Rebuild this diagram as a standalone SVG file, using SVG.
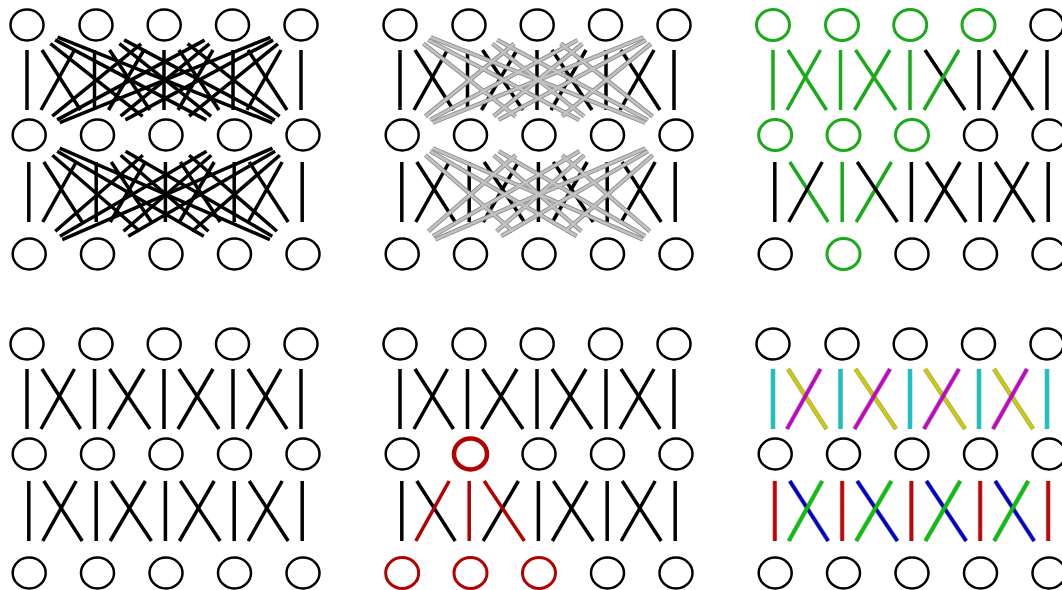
<svg xmlns="http://www.w3.org/2000/svg" xmlns:xlink="http://www.w3.org/1999/xlink" width="1062" height="590" viewBox="0 0 1062 590">
<style>
.n{fill:none;stroke:#000;stroke-width:2.5}
.ng{fill:none;stroke:#1aaa1a;stroke-width:3}
.nr{fill:none;stroke:#b30000;stroke-width:3}
.nr2{fill:none;stroke:#b30000;stroke-width:4.5}
line{stroke-linecap:butt;fill:none}
.k{stroke:#000;stroke-width:3.5}
.g{stroke:#1aaa1a;stroke-width:3.5}
.r{stroke:#b30000;stroke-width:3.5}
.o{stroke:#444;stroke-opacity:.55;stroke-width:4.6}
.cy{stroke:#00cccc;stroke-width:3.4}
.ye{stroke:#cccc00;stroke-width:3.4}
.ma{stroke:#cc00cc;stroke-width:3.4}
.rd{stroke:#cc0000;stroke-width:3.4}
.bl{stroke:#0000cc;stroke-width:3.4}
.gr{stroke:#00c800;stroke-width:3.4}
</style>
<defs>
<g id="longA">
<line x1="50.4" y1="43.6" x2="142.6" y2="116.4"/>
<line x1="55.1" y1="39.9" x2="206.4" y2="120.1"/>
<line x1="57.6" y1="37.2" x2="272.4" y2="122.8"/>
<line x1="119.4" y1="43.6" x2="211.1" y2="116.4"/>
<line x1="124.1" y1="39.9" x2="274.9" y2="120.1"/>
<line x1="187.6" y1="43.6" x2="279.6" y2="116.4"/>
<line x1="141.1" y1="43.8" x2="52.3" y2="116.2"/>
<line x1="204.6" y1="40.1" x2="57.1" y2="119.9"/>
<line x1="270.5" y1="37.3" x2="59.7" y2="122.7"/>
<line x1="209.4" y1="43.8" x2="120.6" y2="116.2"/>
<line x1="273.1" y1="40.1" x2="125.4" y2="119.9"/>
<line x1="277.9" y1="43.8" x2="189.1" y2="116.2"/>
</g>
<g id="longB">
<line x1="52.4" y1="155.2" x2="139.9" y2="231.3"/>
<line x1="57.2" y1="151.2" x2="203.8" y2="236.2"/>
<line x1="59.7" y1="148.2" x2="269.9" y2="239.6"/>
<line x1="120.7" y1="155.2" x2="208.4" y2="231.3"/>
<line x1="125.5" y1="151.2" x2="272.3" y2="236.2"/>
<line x1="189.2" y1="155.2" x2="276.9" y2="231.3"/>
<line x1="142.8" y1="155.2" x2="55.3" y2="231.3"/>
<line x1="206.6" y1="151.2" x2="59.9" y2="236.2"/>
<line x1="272.5" y1="148.2" x2="62.3" y2="239.6"/>
<line x1="211.3" y1="155.2" x2="123.6" y2="231.3"/>
<line x1="275.1" y1="151.2" x2="128.2" y2="236.2"/>
<line x1="279.8" y1="155.2" x2="192.1" y2="231.3"/>
</g>
</defs>
<rect width="1062" height="590" fill="#fff"/>

<!-- Panel 1 -->
<g id="panel1">
<g id="p1-connectors">
<line class="k" x1="27" y1="50" x2="27" y2="110"/><line class="k" x1="94.5" y1="50" x2="94.5" y2="110"/><line class="k" x1="164" y1="50" x2="164" y2="110"/><line class="k" x1="233" y1="50" x2="233" y2="110"/><line class="k" x1="301" y1="50" x2="301" y2="110"/>
<line class="k" x1="42" y1="50" x2="80.5" y2="110"/><line class="k" x1="109.5" y1="50" x2="150" y2="110"/><line class="k" x1="179" y1="50" x2="219" y2="110"/><line class="k" x1="248" y1="50" x2="287" y2="110"/>
<line class="k" x1="74.5" y1="50" x2="41" y2="110"/><line class="k" x1="144" y1="50" x2="108.5" y2="110"/><line class="k" x1="213" y1="50" x2="178" y2="110"/><line class="k" x1="281" y1="50" x2="247" y2="110"/>
<line class="k" x1="28.8" y1="162" x2="28.8" y2="222"/><line class="k" x1="96.2" y1="162" x2="96.2" y2="222"/><line class="k" x1="165.4" y1="162" x2="165.4" y2="222"/><line class="k" x1="234.2" y1="162" x2="234.2" y2="222"/><line class="k" x1="302.2" y1="162" x2="302.2" y2="222"/>
<line class="k" x1="43.8" y1="162" x2="82.2" y2="222"/><line class="k" x1="111.2" y1="162" x2="151.4" y2="222"/><line class="k" x1="180.4" y1="162" x2="220.2" y2="222"/><line class="k" x1="249.2" y1="162" x2="288.2" y2="222"/>
<line class="k" x1="76.2" y1="162" x2="42.8" y2="222"/><line class="k" x1="145.4" y1="162" x2="110.2" y2="222"/><line class="k" x1="214.2" y1="162" x2="179.4" y2="222"/><line class="k" x1="282.2" y1="162" x2="248.2" y2="222"/>
<use href="#longA" stroke="#000" stroke-width="3.5"/>
<use href="#longB" stroke="#000" stroke-width="3.5"/>
</g>
<g id="p1-n00"><ellipse class="n" cx="27" cy="25" rx="16.5" ry="15.5"/></g>
<g id="p1-n01"><ellipse class="n" cx="96" cy="25" rx="16.5" ry="15.5"/></g>
<g id="p1-n02"><ellipse class="n" cx="164.2" cy="25" rx="16.5" ry="15.5"/></g>
<g id="p1-n03"><ellipse class="n" cx="232.5" cy="25" rx="16.5" ry="15.5"/></g>
<g id="p1-n04"><ellipse class="n" cx="301" cy="25" rx="16.5" ry="15.5"/></g>
<g id="p1-n10"><ellipse class="n" cx="29.2" cy="135" rx="16.5" ry="15.5"/></g>
<g id="p1-n11"><ellipse class="n" cx="97.5" cy="135" rx="16.5" ry="15.5"/></g>
<g id="p1-n12"><ellipse class="n" cx="166" cy="135" rx="16.5" ry="15.5"/></g>
<g id="p1-n13"><ellipse class="n" cx="234.5" cy="135" rx="16.5" ry="15.5"/></g>
<g id="p1-n14"><ellipse class="n" cx="303" cy="135" rx="16.5" ry="15.5"/></g>
<g id="p1-n20"><ellipse class="n" cx="29.2" cy="254" rx="16.5" ry="15.5"/></g>
<g id="p1-n21"><ellipse class="n" cx="97.5" cy="254" rx="16.5" ry="15.5"/></g>
<g id="p1-n22"><ellipse class="n" cx="166" cy="254" rx="16.5" ry="15.5"/></g>
<g id="p1-n23"><ellipse class="n" cx="234.5" cy="254" rx="16.5" ry="15.5"/></g>
<g id="p1-n24"><ellipse class="n" cx="303" cy="254" rx="16.5" ry="15.5"/></g>
</g>

<!-- Panel 2 -->
<g id="panel2" transform="translate(373,0)">
<g id="p2-connectors">
<line class="k" x1="27" y1="50" x2="27" y2="110"/><line class="k" x1="94.5" y1="50" x2="94.5" y2="110"/><line class="k" x1="164" y1="50" x2="164" y2="110"/><line class="k" x1="233" y1="50" x2="233" y2="110"/><line class="k" x1="301" y1="50" x2="301" y2="110"/>
<line class="k" x1="42" y1="50" x2="80.5" y2="110"/><line class="k" x1="109.5" y1="50" x2="150" y2="110"/><line class="k" x1="179" y1="50" x2="219" y2="110"/><line class="k" x1="248" y1="50" x2="287" y2="110"/>
<line class="k" x1="74.5" y1="50" x2="41" y2="110"/><line class="k" x1="144" y1="50" x2="108.5" y2="110"/><line class="k" x1="213" y1="50" x2="178" y2="110"/><line class="k" x1="281" y1="50" x2="247" y2="110"/>
<line class="k" x1="28.8" y1="162" x2="28.8" y2="222"/><line class="k" x1="96.2" y1="162" x2="96.2" y2="222"/><line class="k" x1="165.4" y1="162" x2="165.4" y2="222"/><line class="k" x1="234.2" y1="162" x2="234.2" y2="222"/><line class="k" x1="302.2" y1="162" x2="302.2" y2="222"/>
<line class="k" x1="43.8" y1="162" x2="82.2" y2="222"/><line class="k" x1="111.2" y1="162" x2="151.4" y2="222"/><line class="k" x1="180.4" y1="162" x2="220.2" y2="222"/><line class="k" x1="249.2" y1="162" x2="288.2" y2="222"/>
<line class="k" x1="76.2" y1="162" x2="42.8" y2="222"/><line class="k" x1="145.4" y1="162" x2="110.2" y2="222"/><line class="k" x1="214.2" y1="162" x2="179.4" y2="222"/><line class="k" x1="282.2" y1="162" x2="248.2" y2="222"/>
<use href="#longA" stroke="#8c8c8c" stroke-width="4.4"/>
<use href="#longA" stroke="#c2c2c2" stroke-width="2.6"/>
<use href="#longB" stroke="#8c8c8c" stroke-width="4.4"/>
<use href="#longB" stroke="#c2c2c2" stroke-width="2.6"/>
</g>
<g id="p2-n00"><ellipse class="n" cx="27" cy="25" rx="16.5" ry="15.5"/></g>
<g id="p2-n01"><ellipse class="n" cx="96" cy="25" rx="16.5" ry="15.5"/></g>
<g id="p2-n02"><ellipse class="n" cx="164.2" cy="25" rx="16.5" ry="15.5"/></g>
<g id="p2-n03"><ellipse class="n" cx="232.5" cy="25" rx="16.5" ry="15.5"/></g>
<g id="p2-n04"><ellipse class="n" cx="301" cy="25" rx="16.5" ry="15.5"/></g>
<g id="p2-n10"><ellipse class="n" cx="29.2" cy="135" rx="16.5" ry="15.5"/></g>
<g id="p2-n11"><ellipse class="n" cx="97.5" cy="135" rx="16.5" ry="15.5"/></g>
<g id="p2-n12"><ellipse class="n" cx="166" cy="135" rx="16.5" ry="15.5"/></g>
<g id="p2-n13"><ellipse class="n" cx="234.5" cy="135" rx="16.5" ry="15.5"/></g>
<g id="p2-n14"><ellipse class="n" cx="303" cy="135" rx="16.5" ry="15.5"/></g>
<g id="p2-n20"><ellipse class="n" cx="29.2" cy="254" rx="16.5" ry="15.5"/></g>
<g id="p2-n21"><ellipse class="n" cx="97.5" cy="254" rx="16.5" ry="15.5"/></g>
<g id="p2-n22"><ellipse class="n" cx="166" cy="254" rx="16.5" ry="15.5"/></g>
<g id="p2-n23"><ellipse class="n" cx="234.5" cy="254" rx="16.5" ry="15.5"/></g>
<g id="p2-n24"><ellipse class="n" cx="303" cy="254" rx="16.5" ry="15.5"/></g>
</g>

<!-- Panel 3 -->
<g id="panel3" transform="translate(746,0)">
<g id="p3-connectors">
<line class="k" x1="233" y1="50" x2="233" y2="110"/><line class="k" x1="301" y1="50" x2="301" y2="110"/>
<line class="k" x1="179" y1="50" x2="219" y2="110"/><line class="k" x1="248" y1="50" x2="287" y2="110"/><line class="k" x1="281" y1="50" x2="247" y2="110"/>
<line class="g" x1="27" y1="50" x2="27" y2="110"/><line class="g" x1="94.5" y1="50" x2="94.5" y2="110"/><line class="g" x1="164" y1="50" x2="164" y2="110"/>
<line class="g" x1="42" y1="50" x2="80.5" y2="110"/><line class="g" x1="109.5" y1="50" x2="150" y2="110"/>
<line class="g" x1="74.5" y1="50" x2="41" y2="110"/><line class="g" x1="144" y1="50" x2="108.5" y2="110"/><line class="g" x1="213" y1="50" x2="178" y2="110"/>
<line class="g" x1="43.8" y1="162" x2="82.2" y2="222"/><line class="g" x1="96.2" y1="162" x2="96.2" y2="222"/><line class="g" x1="145.4" y1="162" x2="110.2" y2="222"/>
<line class="k" x1="28.8" y1="162" x2="28.8" y2="222"/><line class="k" x1="165.4" y1="162" x2="165.4" y2="222"/><line class="k" x1="234.2" y1="162" x2="234.2" y2="222"/><line class="k" x1="302.2" y1="162" x2="302.2" y2="222"/>
<line class="k" x1="111.2" y1="162" x2="151.4" y2="222"/><line class="k" x1="180.4" y1="162" x2="220.2" y2="222"/><line class="k" x1="249.2" y1="162" x2="288.2" y2="222"/>
<line class="k" x1="76.2" y1="162" x2="42.8" y2="222"/><line class="k" x1="214.2" y1="162" x2="179.4" y2="222"/><line class="k" x1="282.2" y1="162" x2="248.2" y2="222"/>
</g>
<g id="p3-n00"><ellipse class="ng" cx="27" cy="25" rx="16.5" ry="15.5"/></g>
<g id="p3-n01"><ellipse class="ng" cx="96" cy="25" rx="16.5" ry="15.5"/></g>
<g id="p3-n02"><ellipse class="ng" cx="164.2" cy="25" rx="16.5" ry="15.5"/></g>
<g id="p3-n03"><ellipse class="ng" cx="232.5" cy="25" rx="16.5" ry="15.5"/></g>
<g id="p3-n04"><ellipse class="n" cx="301" cy="25" rx="16.5" ry="15.5"/></g>
<g id="p3-n10"><ellipse class="ng" cx="29.2" cy="135" rx="16.5" ry="15.5"/></g>
<g id="p3-n11"><ellipse class="ng" cx="97.5" cy="135" rx="16.5" ry="15.5"/></g>
<g id="p3-n12"><ellipse class="ng" cx="166" cy="135" rx="16.5" ry="15.5"/></g>
<g id="p3-n13"><ellipse class="n" cx="234.5" cy="135" rx="16.5" ry="15.5"/></g>
<g id="p3-n14"><ellipse class="n" cx="303" cy="135" rx="16.5" ry="15.5"/></g>
<g id="p3-n20"><ellipse class="n" cx="29.2" cy="254" rx="16.5" ry="15.5"/></g>
<g id="p3-n21"><ellipse class="ng" cx="97.5" cy="254" rx="16.5" ry="15.5"/></g>
<g id="p3-n22"><ellipse class="n" cx="166" cy="254" rx="16.5" ry="15.5"/></g>
<g id="p3-n23"><ellipse class="n" cx="234.5" cy="254" rx="16.5" ry="15.5"/></g>
<g id="p3-n24"><ellipse class="n" cx="303" cy="254" rx="16.5" ry="15.5"/></g>
</g>

<!-- Panel 4 -->
<g id="panel4" transform="translate(0,319)">
<g id="p4-connectors">
<line class="k" x1="27" y1="50" x2="27" y2="110"/><line class="k" x1="94.5" y1="50" x2="94.5" y2="110"/><line class="k" x1="164" y1="50" x2="164" y2="110"/><line class="k" x1="233" y1="50" x2="233" y2="110"/><line class="k" x1="301" y1="50" x2="301" y2="110"/>
<line class="k" x1="42" y1="50" x2="80.5" y2="110"/><line class="k" x1="109.5" y1="50" x2="150" y2="110"/><line class="k" x1="179" y1="50" x2="219" y2="110"/><line class="k" x1="248" y1="50" x2="287" y2="110"/>
<line class="k" x1="74.5" y1="50" x2="41" y2="110"/><line class="k" x1="144" y1="50" x2="108.5" y2="110"/><line class="k" x1="213" y1="50" x2="178" y2="110"/><line class="k" x1="281" y1="50" x2="247" y2="110"/>
<line class="k" x1="28.8" y1="162" x2="28.8" y2="222"/><line class="k" x1="96.2" y1="162" x2="96.2" y2="222"/><line class="k" x1="165.4" y1="162" x2="165.4" y2="222"/><line class="k" x1="234.2" y1="162" x2="234.2" y2="222"/><line class="k" x1="302.2" y1="162" x2="302.2" y2="222"/>
<line class="k" x1="43.8" y1="162" x2="82.2" y2="222"/><line class="k" x1="111.2" y1="162" x2="151.4" y2="222"/><line class="k" x1="180.4" y1="162" x2="220.2" y2="222"/><line class="k" x1="249.2" y1="162" x2="288.2" y2="222"/>
<line class="k" x1="76.2" y1="162" x2="42.8" y2="222"/><line class="k" x1="145.4" y1="162" x2="110.2" y2="222"/><line class="k" x1="214.2" y1="162" x2="179.4" y2="222"/><line class="k" x1="282.2" y1="162" x2="248.2" y2="222"/>
</g>
<g id="p4-n00"><ellipse class="n" cx="27" cy="25" rx="16.5" ry="15.5"/></g>
<g id="p4-n01"><ellipse class="n" cx="96" cy="25" rx="16.5" ry="15.5"/></g>
<g id="p4-n02"><ellipse class="n" cx="164.2" cy="25" rx="16.5" ry="15.5"/></g>
<g id="p4-n03"><ellipse class="n" cx="232.5" cy="25" rx="16.5" ry="15.5"/></g>
<g id="p4-n04"><ellipse class="n" cx="301" cy="25" rx="16.5" ry="15.5"/></g>
<g id="p4-n10"><ellipse class="n" cx="29.2" cy="135" rx="16.5" ry="15.5"/></g>
<g id="p4-n11"><ellipse class="n" cx="97.5" cy="135" rx="16.5" ry="15.5"/></g>
<g id="p4-n12"><ellipse class="n" cx="166" cy="135" rx="16.5" ry="15.5"/></g>
<g id="p4-n13"><ellipse class="n" cx="234.5" cy="135" rx="16.5" ry="15.5"/></g>
<g id="p4-n14"><ellipse class="n" cx="303" cy="135" rx="16.5" ry="15.5"/></g>
<g id="p4-n20"><ellipse class="n" cx="29.2" cy="254" rx="16.5" ry="15.5"/></g>
<g id="p4-n21"><ellipse class="n" cx="97.5" cy="254" rx="16.5" ry="15.5"/></g>
<g id="p4-n22"><ellipse class="n" cx="166" cy="254" rx="16.5" ry="15.5"/></g>
<g id="p4-n23"><ellipse class="n" cx="234.5" cy="254" rx="16.5" ry="15.5"/></g>
<g id="p4-n24"><ellipse class="n" cx="303" cy="254" rx="16.5" ry="15.5"/></g>
</g>

<!-- Panel 5 -->
<g id="panel5" transform="translate(373,319)">
<g id="p5-connectors">
<line class="k" x1="27" y1="50" x2="27" y2="110"/><line class="k" x1="94.5" y1="50" x2="94.5" y2="110"/><line class="k" x1="164" y1="50" x2="164" y2="110"/><line class="k" x1="233" y1="50" x2="233" y2="110"/><line class="k" x1="301" y1="50" x2="301" y2="110"/>
<line class="k" x1="42" y1="50" x2="80.5" y2="110"/><line class="k" x1="109.5" y1="50" x2="150" y2="110"/><line class="k" x1="179" y1="50" x2="219" y2="110"/><line class="k" x1="248" y1="50" x2="287" y2="110"/>
<line class="k" x1="74.5" y1="50" x2="41" y2="110"/><line class="k" x1="144" y1="50" x2="108.5" y2="110"/><line class="k" x1="213" y1="50" x2="178" y2="110"/><line class="k" x1="281" y1="50" x2="247" y2="110"/>
<line class="k" x1="28.8" y1="162" x2="28.8" y2="222"/><line class="k" x1="165.4" y1="162" x2="165.4" y2="222"/><line class="k" x1="234.2" y1="162" x2="234.2" y2="222"/><line class="k" x1="302.2" y1="162" x2="302.2" y2="222"/>
<line class="k" x1="43.8" y1="162" x2="82.2" y2="222"/><line class="k" x1="180.4" y1="162" x2="220.2" y2="222"/><line class="k" x1="249.2" y1="162" x2="288.2" y2="222"/>
<line class="k" x1="145.4" y1="162" x2="110.2" y2="222"/><line class="k" x1="214.2" y1="162" x2="179.4" y2="222"/><line class="k" x1="282.2" y1="162" x2="248.2" y2="222"/>
<line class="r" x1="76.2" y1="162" x2="42.8" y2="222"/><line class="r" x1="96.2" y1="162" x2="96.2" y2="222"/><line class="r" x1="111.2" y1="162" x2="151.4" y2="222"/>
</g>
<g id="p5-n00"><ellipse class="n" cx="27" cy="25" rx="16.5" ry="15.5"/></g>
<g id="p5-n01"><ellipse class="n" cx="96" cy="25" rx="16.5" ry="15.5"/></g>
<g id="p5-n02"><ellipse class="n" cx="164.2" cy="25" rx="16.5" ry="15.5"/></g>
<g id="p5-n03"><ellipse class="n" cx="232.5" cy="25" rx="16.5" ry="15.5"/></g>
<g id="p5-n04"><ellipse class="n" cx="301" cy="25" rx="16.5" ry="15.5"/></g>
<g id="p5-n10"><ellipse class="n" cx="29.2" cy="135" rx="16.5" ry="15.5"/></g>
<g id="p5-n11"><ellipse class="nr2" cx="97.5" cy="135" rx="16.5" ry="15.5"/></g>
<g id="p5-n12"><ellipse class="n" cx="166" cy="135" rx="16.5" ry="15.5"/></g>
<g id="p5-n13"><ellipse class="n" cx="234.5" cy="135" rx="16.5" ry="15.5"/></g>
<g id="p5-n14"><ellipse class="n" cx="303" cy="135" rx="16.5" ry="15.5"/></g>
<g id="p5-n20"><ellipse class="nr" cx="29.2" cy="254" rx="16.5" ry="15.5"/></g>
<g id="p5-n21"><ellipse class="nr" cx="97.5" cy="254" rx="16.5" ry="15.5"/></g>
<g id="p5-n22"><ellipse class="nr" cx="166" cy="254" rx="16.5" ry="15.5"/></g>
<g id="p5-n23"><ellipse class="n" cx="234.5" cy="254" rx="16.5" ry="15.5"/></g>
<g id="p5-n24"><ellipse class="n" cx="303" cy="254" rx="16.5" ry="15.5"/></g>
</g>

<!-- Panel 6 -->
<g id="panel6" transform="translate(746,319)">
<g id="p6-connectors">
<g class="o">
<line x1="27" y1="50" x2="27" y2="110"/><line x1="94.5" y1="50" x2="94.5" y2="110"/><line x1="164" y1="50" x2="164" y2="110"/><line x1="233" y1="50" x2="233" y2="110"/><line x1="301" y1="50" x2="301" y2="110"/>
</g>
<g class="cy">
<line x1="27" y1="50" x2="27" y2="110"/><line x1="94.5" y1="50" x2="94.5" y2="110"/><line x1="164" y1="50" x2="164" y2="110"/><line x1="233" y1="50" x2="233" y2="110"/><line x1="301" y1="50" x2="301" y2="110"/>
</g>
<line class="o" x1="42" y1="50" x2="80.5" y2="110"/><line class="ye" x1="42" y1="50" x2="80.5" y2="110"/>
<line class="o" x1="74.5" y1="50" x2="41" y2="110"/><line class="ma" x1="74.5" y1="50" x2="41" y2="110"/>
<line class="o" x1="109.5" y1="50" x2="150" y2="110"/><line class="ye" x1="109.5" y1="50" x2="150" y2="110"/>
<line class="o" x1="144" y1="50" x2="108.5" y2="110"/><line class="ma" x1="144" y1="50" x2="108.5" y2="110"/>
<line class="o" x1="179" y1="50" x2="219" y2="110"/><line class="ye" x1="179" y1="50" x2="219" y2="110"/>
<line class="o" x1="213" y1="50" x2="178" y2="110"/><line class="ma" x1="213" y1="50" x2="178" y2="110"/>
<line class="o" x1="248" y1="50" x2="287" y2="110"/><line class="ye" x1="248" y1="50" x2="287" y2="110"/>
<line class="o" x1="281" y1="50" x2="247" y2="110"/><line class="ma" x1="281" y1="50" x2="247" y2="110"/>
<g class="o">
<line x1="28.8" y1="162" x2="28.8" y2="222"/><line x1="96.2" y1="162" x2="96.2" y2="222"/><line x1="165.4" y1="162" x2="165.4" y2="222"/><line x1="234.2" y1="162" x2="234.2" y2="222"/><line x1="302.2" y1="162" x2="302.2" y2="222"/>
</g>
<g class="rd">
<line x1="28.8" y1="162" x2="28.8" y2="222"/><line x1="96.2" y1="162" x2="96.2" y2="222"/><line x1="165.4" y1="162" x2="165.4" y2="222"/><line x1="234.2" y1="162" x2="234.2" y2="222"/><line x1="302.2" y1="162" x2="302.2" y2="222"/>
</g>
<line class="o" x1="43.8" y1="162" x2="82.2" y2="222"/><line class="bl" x1="43.8" y1="162" x2="82.2" y2="222"/>
<line class="o" x1="76.2" y1="162" x2="42.8" y2="222"/><line class="gr" x1="76.2" y1="162" x2="42.8" y2="222"/>
<line class="o" x1="111.2" y1="162" x2="151.4" y2="222"/><line class="bl" x1="111.2" y1="162" x2="151.4" y2="222"/>
<line class="o" x1="145.4" y1="162" x2="110.2" y2="222"/><line class="gr" x1="145.4" y1="162" x2="110.2" y2="222"/>
<line class="o" x1="180.4" y1="162" x2="220.2" y2="222"/><line class="bl" x1="180.4" y1="162" x2="220.2" y2="222"/>
<line class="o" x1="214.2" y1="162" x2="179.4" y2="222"/><line class="gr" x1="214.2" y1="162" x2="179.4" y2="222"/>
<line class="o" x1="249.2" y1="162" x2="288.2" y2="222"/><line class="bl" x1="249.2" y1="162" x2="288.2" y2="222"/>
<line class="o" x1="282.2" y1="162" x2="248.2" y2="222"/><line class="gr" x1="282.2" y1="162" x2="248.2" y2="222"/>
</g>
<g id="p6-n00"><ellipse class="n" cx="27" cy="25" rx="16.5" ry="15.5"/></g>
<g id="p6-n01"><ellipse class="n" cx="96" cy="25" rx="16.5" ry="15.5"/></g>
<g id="p6-n02"><ellipse class="n" cx="164.2" cy="25" rx="16.5" ry="15.5"/></g>
<g id="p6-n03"><ellipse class="n" cx="232.5" cy="25" rx="16.5" ry="15.5"/></g>
<g id="p6-n04"><ellipse class="n" cx="301" cy="25" rx="16.5" ry="15.5"/></g>
<g id="p6-n10"><ellipse class="n" cx="29.2" cy="135" rx="16.5" ry="15.5"/></g>
<g id="p6-n11"><ellipse class="n" cx="97.5" cy="135" rx="16.5" ry="15.5"/></g>
<g id="p6-n12"><ellipse class="n" cx="166" cy="135" rx="16.5" ry="15.5"/></g>
<g id="p6-n13"><ellipse class="n" cx="234.5" cy="135" rx="16.5" ry="15.5"/></g>
<g id="p6-n14"><ellipse class="n" cx="303" cy="135" rx="16.5" ry="15.5"/></g>
<g id="p6-n20"><ellipse class="n" cx="29.2" cy="254" rx="16.5" ry="15.5"/></g>
<g id="p6-n21"><ellipse class="n" cx="97.5" cy="254" rx="16.5" ry="15.5"/></g>
<g id="p6-n22"><ellipse class="n" cx="166" cy="254" rx="16.5" ry="15.5"/></g>
<g id="p6-n23"><ellipse class="n" cx="234.5" cy="254" rx="16.5" ry="15.5"/></g>
<g id="p6-n24"><ellipse class="n" cx="303" cy="254" rx="16.5" ry="15.5"/></g>
</g>
</svg>
